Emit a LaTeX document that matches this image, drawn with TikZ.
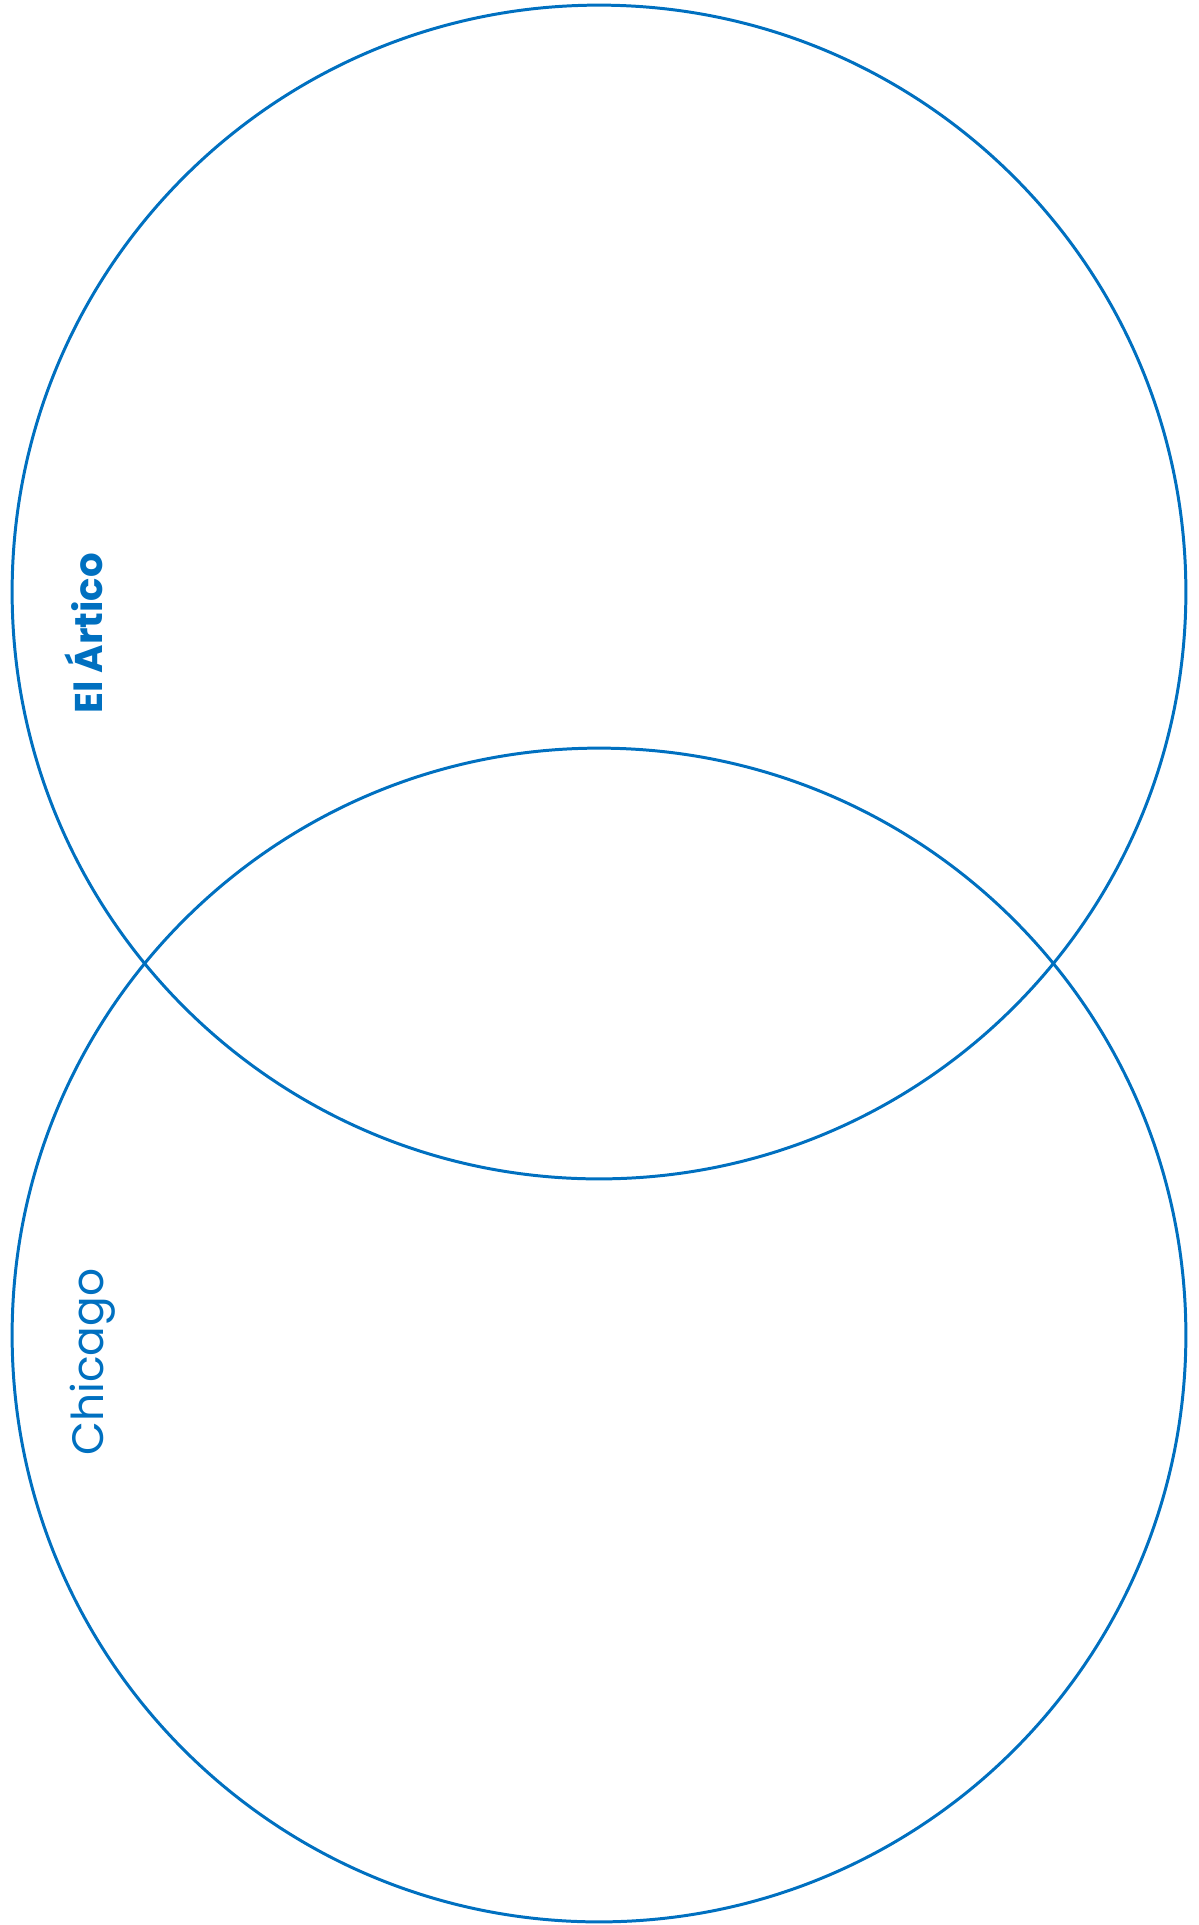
\documentclass[tikz,border=0pt]{standalone}
\usepackage{fontspec}
\setmainfont{Poppins}
\usepackage{tikz}
\usetikzlibrary{calc}
\definecolor{vnBlue}{HTML}{0070C0}

\begin{document}
\begin{tikzpicture}[x=0.02cm, y=-0.02cm]
    \useasboundingbox (0,0) rectangle (1198,1925);
    \node[circle, draw=vnBlue, line width=1.7pt, minimum size=23.48cm, inner sep=0pt] (artico) at (599,592) {};
    \node[circle, draw=vnBlue, line width=1.7pt, minimum size=23.48cm, inner sep=0pt] (chicago) at (599,1335) {};
    \node[font=\bfseries\fontsize{22}{26}\selectfont, text=vnBlue, rotate=90, anchor=base west, inner sep=0pt] (articoLabel) at ($(artico.west)+(92,122)$) {El Ártico};
    \node[font=\fontsize{25}{30}\selectfont, text=vnBlue, rotate=90, anchor=base west, inner sep=0pt] (chicagoLabel) at ($(chicago.west)+(93,121)$) {Chicago};
\end{tikzpicture}
\end{document}
